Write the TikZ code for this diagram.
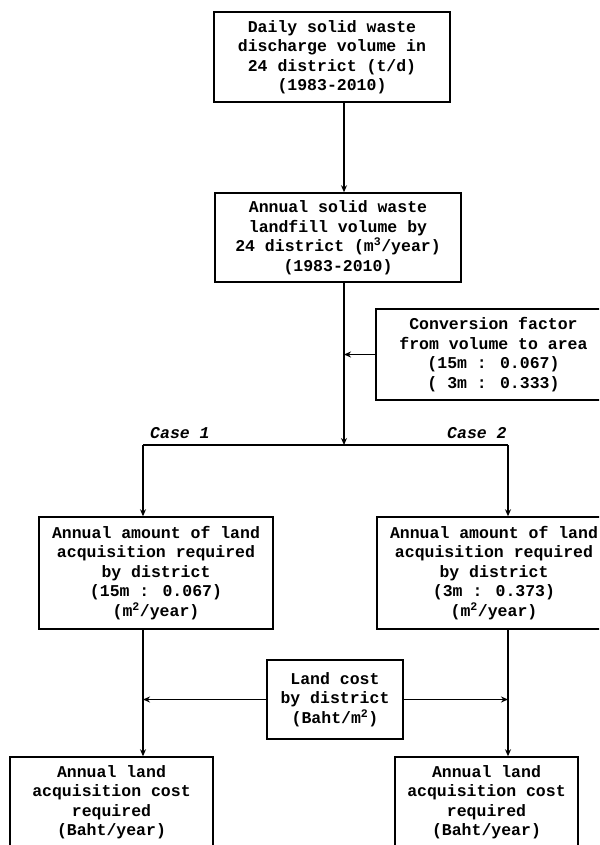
\documentclass[tikz,border=0pt]{standalone}
\usepackage{fontspec}
\setmainfont{Liberation Mono}
\usetikzlibrary{arrows.meta}
\begin{document}
\begin{tikzpicture}[x=1pt,y=-1pt,
  box/.style={draw, line width=1.5pt, inner sep=0pt, align=center,
    font=\bfseries\fontsize{16.5}{19.5}\selectfont},
  conn/.style={line width=1.2pt},
  arr/.style={conn, -{Stealth[length=7pt,width=6pt]}},
  caselbl/.style={font=\bfseries\itshape\fontsize{16.5}{19.5}\selectfont, inner sep=0pt, anchor=base west}]
\useasboundingbox (0,0) rectangle (599,845);
\clip (0,0) rectangle (599,845);
% boxes
\node[box, minimum width=236pt, minimum height=90pt] (b1) at (332,57)
  {Daily solid waste\\discharge volume in\\24 district (t/d)\\(1983-2010)};
\node[box, minimum width=246pt, minimum height=89pt] (b2) at (338,237.5)
  {Annual solid waste\\landfill volume by\\24 district (m\textsuperscript{3}/year)\\(1983-2010)};
\node[box, minimum width=235pt, minimum height=91pt] (conv) at (493.5,354.5)
  {Conversion factor\\from volume to area\\(15m : 0.067)\\( 3m : 0.333)};
\node[box, minimum width=234pt, minimum height=112pt] (m1) at (156,573)
  {Annual amount of land\\acquisition required\\by district\\(15m : 0.067)\\(m\textsuperscript{2}/year)};
\node[box, minimum width=234pt, minimum height=112pt] (m2) at (494,573)
  {Annual amount of land\\acquisition required\\by district\\(3m : 0.373)\\(m\textsuperscript{2}/year)};
\node[box, minimum width=136pt, minimum height=79pt] (lc) at (335,699.5)
  {Land cost\\by district\\(Baht/m\textsuperscript{2})};
\node[box, minimum width=203pt, minimum height=90pt] (f1) at (111.5,802)
  {Annual land\\acquisition cost\\required\\(Baht/year)};
\node[box, minimum width=183pt, minimum height=90pt] (f2) at (486.5,802)
  {Annual land\\acquisition cost\\required\\(Baht/year)};
% case labels
\node[caselbl] (case1) at (150,438) {Case 1};
\node[caselbl] (case2) at (447,438) {Case 2};
% coordinates
\coordinate (vx) at (344,0);
\coordinate (sp) at (344,445);
\coordinate (cL) at (143,445);
\coordinate (cR) at (508,445);
% connectors
\draw[arr] (b1.south -| vx) -- (b2.north -| vx);
\draw[arr] (b2.south -| vx) -- (sp);
\draw[arr] (conv.west) -- (conv.west -| vx);
\draw[conn] (cL) -- (cR);
\draw[arr] (cL) -- (m1.north -| cL);
\draw[arr] (cR) -- (m2.north -| cR);
\draw[arr] (m1.south -| cL) -- (f1.north -| cL);
\draw[arr] (m2.south -| cR) -- (f2.north -| cR);
\draw[arr] (lc.west) -- (lc.west -| cL);
\draw[arr] (lc.east) -- (lc.east -| cR);
\end{tikzpicture}
\end{document}
